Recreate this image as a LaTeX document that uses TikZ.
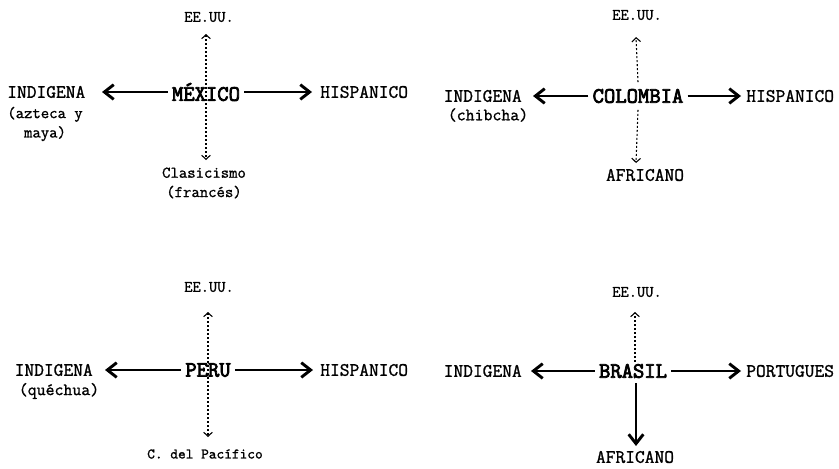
\documentclass[tikz,border=0pt]{standalone}
\usepackage{fontspec}
\setmainfont{Latin Modern Mono}[FakeBold=1.2]
\newfontfamily\ctrfont{Latin Modern Mono}[FakeBold=3.5]
\usetikzlibrary{arrows.meta}
\begin{document}
\begin{tikzpicture}[x=0.75pt,y=-0.75pt,
  lbl/.style={inner sep=0pt,font=\fontsize{14.2}{15}\selectfont},
  sml/.style={inner sep=0pt,font=\fontsize{12.2}{14.5}\selectfont,align=center},
  usa/.style={inner sep=0pt,font=\fontsize{12}{13}\selectfont},
  ctr/.style={inner xsep=3pt,inner ysep=5pt,font=\fontsize{16.5}{17}\ctrfont},
  big/.style={line width=2.2pt,-{Straight Barb[length=7pt,width=11pt,line width=2.2pt]}},
  dot/.style={line width=0.8pt,dash pattern=on 1.5pt off 1.5pt,-{Straight Barb[length=3pt,width=6.5pt,line width=0.8pt]}},
  dotb/.style={line width=0.8pt,dash pattern=on 1.5pt off 1.5pt,{Straight Barb[length=3pt,width=6.5pt,line width=0.8pt]}-{Straight Barb[length=3pt,width=6.5pt,line width=0.8pt]}}
]
\useasboundingbox (0,0) rectangle (839,468);

% ---------- MEXICO ----------
\node[usa] (mxU) at (209,17) {EE.UU.};
\node[lbl,anchor=west] (mxI) at (7,92) {INDIGENA};
\node[sml] (mxI2) at (45,124) {(azteca y\\maya)};
\node[lbl,anchor=west] (mxH) at (320,92) {HISPANICO};
\node[sml] (mxC) at (204,183) {Clasicismo\\(francés)};
\coordinate (mxT) at (206,34);
\coordinate (mxB) at (206,160);
\coordinate (mxL) at (102,92);
\coordinate (mxR) at (312,92);
\draw[dotb] (mxT) -- (mxB);
\node[ctr] (mx) at (206,92) {MÉXICO};
\draw[big] (mx.west) -- (mxL);
\draw[big] (mx.east) -- (mxR);

% ---------- COLOMBIA ----------
\node[usa] (coU) at (637,15) {EE.UU.};
\node[lbl,anchor=east] (coI) at (522,96) {INDIGENA};
\node[sml,font=\fontsize{13}{14}\selectfont] (coI2) at (488,115) {(chibcha)};
\node[lbl,anchor=west] (coH) at (746,96) {HISPANICO};
\node[lbl] (coA) at (645,175) {AFRICANO};
\coordinate (coT) at (636,37);
\coordinate (coB) at (636,163);
\coordinate (coL) at (533,96);
\coordinate (coR) at (741,96);
\node[ctr] (co) at (638,96) {COLOMBIA};
\draw[dot] (co.north) -- (coT);
\draw[dot] (co.south) -- (coB);
\draw[big] (co.west) -- (coL);
\draw[big] (co.east) -- (coR);

% ---------- PERU ----------
\node[usa] (peU) at (209,287) {EE.UU.};
\node[lbl,anchor=east] (peI) at (93,370) {INDIGENA};
\node[sml,font=\fontsize{13}{14}\selectfont] (peI2) at (59,391) {(quéchua)};
\node[lbl,anchor=west] (peH) at (320,370) {HISPANICO};
\node[sml,font=\fontsize{11}{13}\selectfont] (peC) at (205,454) {C. del Pacífico};
\coordinate (peT) at (208,312);
\coordinate (peB) at (208,437);
\coordinate (peL) at (105,370);
\coordinate (peR) at (313,370);
\draw[dotb] (peT) -- (peB);
\node[ctr] (pe) at (208,370) {PERU};
\draw[big] (pe.west) -- (peL);
\draw[big] (pe.east) -- (peR);

% ---------- BRASIL ----------
\node[usa] (brU) at (637,292) {EE.UU.};
\node[lbl,anchor=east] (brI) at (522,371) {INDIGENA};
\node[lbl,anchor=west] (brP) at (746,371) {PORTUGUES};
\node[lbl] (brA) at (635,457) {AFRICANO};
\coordinate (brT) at (635,312);
\coordinate (brL) at (531,371);
\coordinate (brR) at (741,371);
\coordinate (brB) at (636,446);
\node[ctr,inner ysep=6pt] (br) at (633,371) {BRASIL};
\draw[dot] (635,362) -- (brT);
\draw[big] (br.west) -- (brL);
\draw[big] (br.east) -- (brR);
\draw[big] (636,383) -- (brB);
\end{tikzpicture}
\end{document}
